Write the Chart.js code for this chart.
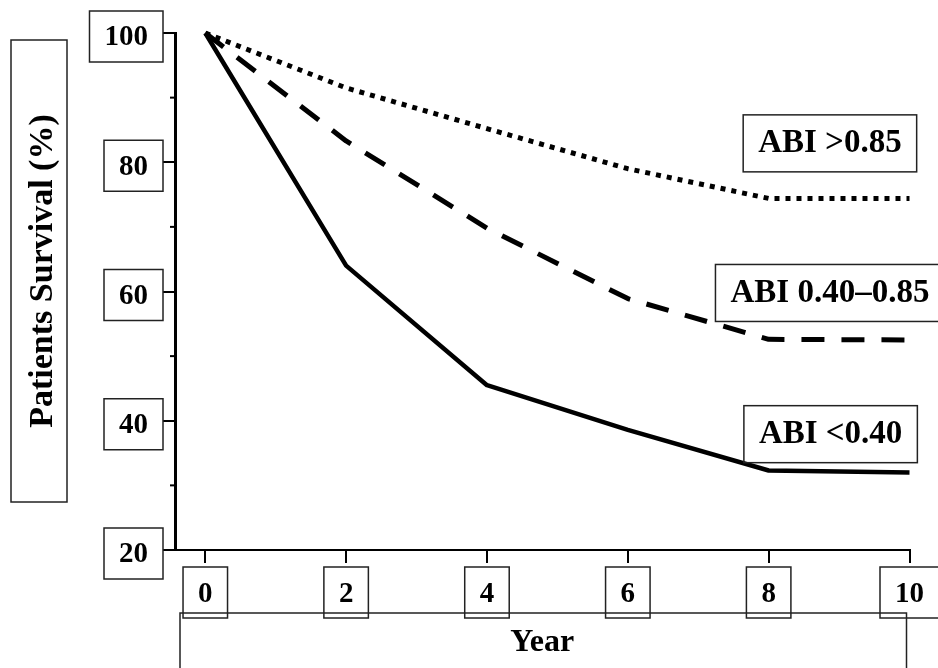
<!DOCTYPE html>
<html>
<head>
<meta charset="utf-8">
<script src="https://cdn.jsdelivr.net/npm/chart.js@4.4.1/dist/chart.umd.min.js"></script>
<style>
  html, body { margin: 0; padding: 0; background: #fff; }
  #wrap { width: 938px; height: 668px; }
</style>
</head>
<body>
<div id="wrap"><canvas id="survival-chart"></canvas></div>
<script>
// values
const years = [0, 2, 4, 6, 8, 10];
const seriesNames = ["ABI >0.85", "ABI 0.40\u20130.85", "ABI <0.40"];
const abiHigh = [100, 91.5, 85.2, 79.0, 74.4, 74.4];
const abiMid  = [100, 83.3, 69.8, 58.9, 52.6, 52.5];
const abiLow  = [100, 64.0, 45.5, 38.6, 32.3, 32.0];
const yTicks = [20, 30, 40, 50, 60, 70, 80, 90, 100];
const yTickLabels = [20, 40, 60, 80, 100];
const xTickLabels = [0, 2, 4, 6, 8, 10];
const yTitle = "Patients Survival (%)";
const xTitle = "Year";

const FONT = "'Liberation Serif', 'Times New Roman', serif";
Chart.defaults.font.family = FONT;
Chart.defaults.font.weight = 'bold';
Chart.defaults.color = '#000';

function points(vals) {
  return years.map((yr, i) => ({ x: yr, y: vals[i] }));
}

// where the series names sit, in data units
const nameSpots = [
  { x: 8.87, y: 83.0 },
  { x: 8.87, y: 59.85 },
  { x: 8.88, y: 38.0 }
];

const boxes = {
  id: 'boxes',
  afterDraw(chart) {
    const { ctx, chartArea, scales } = chart;
    const xs = scales.x, ys = scales.y;
    ctx.save();

    // minor ticks on the y axis
    ctx.strokeStyle = '#000';
    ctx.lineWidth = 2;
    yTicks.filter(v => !yTickLabels.includes(v)).forEach(v => {
      const py = ys.getPixelForValue(v);
      ctx.beginPath();
      ctx.moveTo(chartArea.left - 5, py);
      ctx.lineTo(chartArea.left, py);
      ctx.stroke();
    });

    ctx.strokeStyle = '#222';
    ctx.lineWidth = 1.5;

    // frames round the tick labels
    ctx.font = 'bold 29px ' + FONT;
    yTickLabels.forEach(v => {
      const py = ys.getPixelForValue(v);
      const w = ctx.measureText(String(v)).width + 30;
      ctx.strokeRect(chartArea.left - 12 - w, py - 22, w, 51);
    });
    xTickLabels.forEach(v => {
      const px = xs.getPixelForValue(v);
      const w = ctx.measureText(String(v)).width + 30;
      ctx.strokeRect(px - w / 2, xs.top + 17, w, 51);
    });

    // axis title frames
    ctx.strokeRect(chartArea.left + 5, 613, chartArea.right - chartArea.left - 8, 80);
    ctx.strokeRect(11, 40, 56, 462);

    ctx.fillStyle = '#000';
    ctx.font = 'bold 34px ' + FONT;
    ctx.textAlign = 'center';
    ctx.textBaseline = 'middle';
    ctx.save();
    ctx.translate(43, 271);
    ctx.rotate(-Math.PI / 2);
    ctx.fillText(yTitle, 0, 0);
    ctx.restore();

    // series names
    ctx.font = 'bold 33px ' + FONT;
    seriesNames.forEach((name, i) => {
      const px = xs.getPixelForValue(nameSpots[i].x);
      const py = ys.getPixelForValue(nameSpots[i].y);
      const w = ctx.measureText(name).width + 30;
      ctx.strokeRect(px - w / 2, py - 28, w, 57);
      ctx.fillText(name, px, py + 1);
    });

    ctx.restore();
  }
};

new Chart(document.getElementById('survival-chart'), {
  type: 'line',
  data: {
    datasets: [{
      label: seriesNames[0],
      data: points(abiHigh),
      borderColor: '#000',
      borderWidth: 5,
      borderDash: [5, 6],
      borderCapStyle: 'butt'
    }, {
      label: seriesNames[1],
      data: points(abiMid),
      borderColor: '#000',
      borderWidth: 5,
      borderDash: [23, 17],
      borderCapStyle: 'butt'
    }, {
      label: seriesNames[2],
      data: points(abiLow),
      borderColor: '#000',
      borderWidth: 4.5
    }]
  },
  options: {
    responsive: true,
    maintainAspectRatio: false,
    animation: false,
    clip: false,
    elements: { point: { radius: 0 }, line: { tension: 0, borderJoinStyle: 'round' } },
    layout: { padding: { top: 33, right: 28, left: 0, bottom: 0 } },
    plugins: { legend: { display: false }, tooltip: { enabled: false } },
    scales: {
      x: {
        type: 'linear',
        min: -0.43,
        max: 10,
        afterBuildTicks: s => { s.ticks = xTickLabels.map(v => ({ value: v })); },
        afterFit: s => { s.height = 118; },
        ticks: { autoSkip: false, padding: 14, font: { size: 29, weight: 'bold' } },
        grid: { drawOnChartArea: false, tickLength: 13, lineWidth: 2, color: '#000' },
        border: { color: '#000', width: 2 },
        title: { display: true, text: xTitle, font: { size: 32, weight: 'bold' }, padding: { top: 0, bottom: 6 } }
      },
      y: {
        min: 20,
        max: 100,
        afterBuildTicks: s => { s.ticks = yTicks.map(v => ({ value: v })); },
        afterFit: s => { s.width = 175; },
        ticks: {
          autoSkip: false,
          padding: 15,
          labelOffset: 5,
          font: { size: 29, weight: 'bold' },
          callback: v => yTickLabels.includes(v) ? String(v) : ''
        },
        grid: {
          drawOnChartArea: false,
          tickLength: 12,
          lineWidth: 2,
          color: c => (c.tick && yTickLabels.includes(c.tick.value)) ? '#000' : 'rgba(0,0,0,0)'
        },
        border: { color: '#000', width: 3 }
      }
    }
  },
  plugins: [boxes]
});
</script>
</body>
</html>
